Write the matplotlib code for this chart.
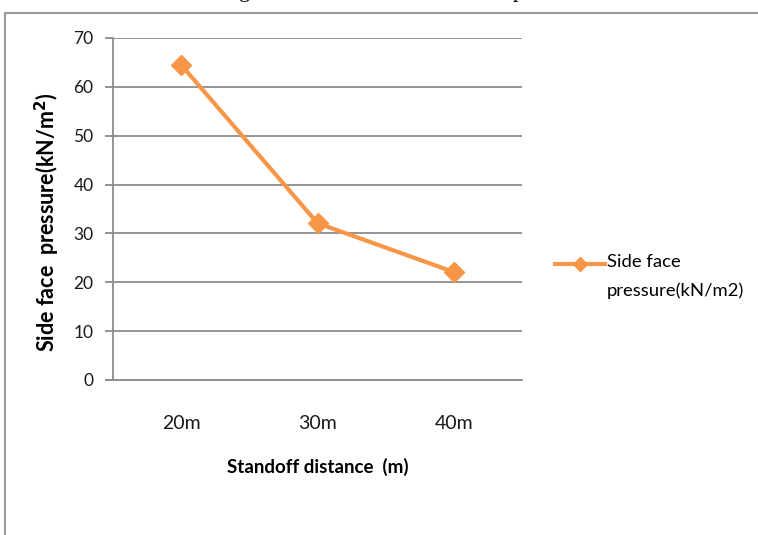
import matplotlib.pyplot as plt
from matplotlib.patches import Rectangle
from matplotlib.legend_handler import HandlerLine2D

# data
distances = ['20m', '30m', '40m']
side_pressure = [64.5, 32.1, 22.1]
yticks = [0, 10, 20, 30, 40, 50, 60, 70]

orange = '#F79646'
grid_grey = '#8c8c8c'
plt.rcParams['font.family'] = ['Lato', 'DejaVu Sans']


# legend handle sits on the first line of the two-line label, like Excel does
class TopLineHandler(HandlerLine2D):
    def create_artists(self, legend, orig_handle, xdescent, ydescent,
                       width, height, fontsize, trans):
        return super().create_artists(legend, orig_handle, xdescent, ydescent - 18,
                                      width, height, fontsize, trans)


fig = plt.figure(figsize=(7.58, 5.35), dpi=100)
ax = fig.add_axes([113/758, 1-380/535, 409/758, 342/535])

x = list(range(len(distances)))
line, = ax.plot(x, side_pressure, color=orange, lw=3, marker='D', markersize=10,
                label='Side face\npressure(kN/m2)', zorder=3)

ax.set_xlim(-0.5, 2.5)
ax.set_ylim(0, 70)
ax.set_yticks(yticks)
ax.set_xticks(x)
ax.set_xticklabels(distances)
ax.yaxis.grid(True, color=grid_grey, lw=1.3)
ax.set_axisbelow(True)

for s in ['top', 'right']:
    ax.spines[s].set_visible(False)
ax.spines['left'].set_color(grid_grey)
ax.spines['bottom'].set_color(grid_grey)
ax.spines['left'].set_linewidth(1.3)
ax.spines['bottom'].set_linewidth(1.3)
ax.spines['bottom'].set_bounds(-0.55, 2.5)
ax.tick_params(axis='y', length=6, width=1.3, color=grid_grey, labelsize=12.5,
               labelcolor='#1a1a1a', pad=8)
ax.tick_params(axis='x', length=0, labelsize=14, labelcolor='#1a1a1a', pad=25)

ax.set_xlabel('Standoff distance  (m)', fontsize=13.5, fontweight='bold', labelpad=19)
ax.set_ylabel('Side face  pressure(kN/m$^\\mathbf{2}$)', fontsize=15.5,
              fontweight='bold')
ax.yaxis.set_label_coords(-(113-62)/409, (380-222)/342)

leg = ax.legend(loc='upper left', bbox_to_anchor=(555/758, 1-254/535),
                bbox_transform=fig.transFigure, frameon=False, borderaxespad=0,
                borderpad=0, fontsize=13.3, handlelength=2.7, handletextpad=0.1,
                markerscale=0.7, handler_map={line: TopLineHandler()})
for t in leg.get_texts():
    t.set_linespacing(1.9)

# outer frame of the pasted chart
fig.patches.append(Rectangle((5/758, -0.1), 1.0, 1-13/535+0.1, transform=fig.transFigure,
                             fill=False, ec='#999999', lw=1.5))

# cut-off text from the page above
fig.text(245/758, 1+3/535, 'g', fontsize=16, family='Liberation Serif', ha='center', va='baseline')
fig.text(518/758, 1+3/535, 'p', fontsize=16, family='Liberation Serif', ha='center', va='baseline')

fig.savefig('out.png', dpi=100)
